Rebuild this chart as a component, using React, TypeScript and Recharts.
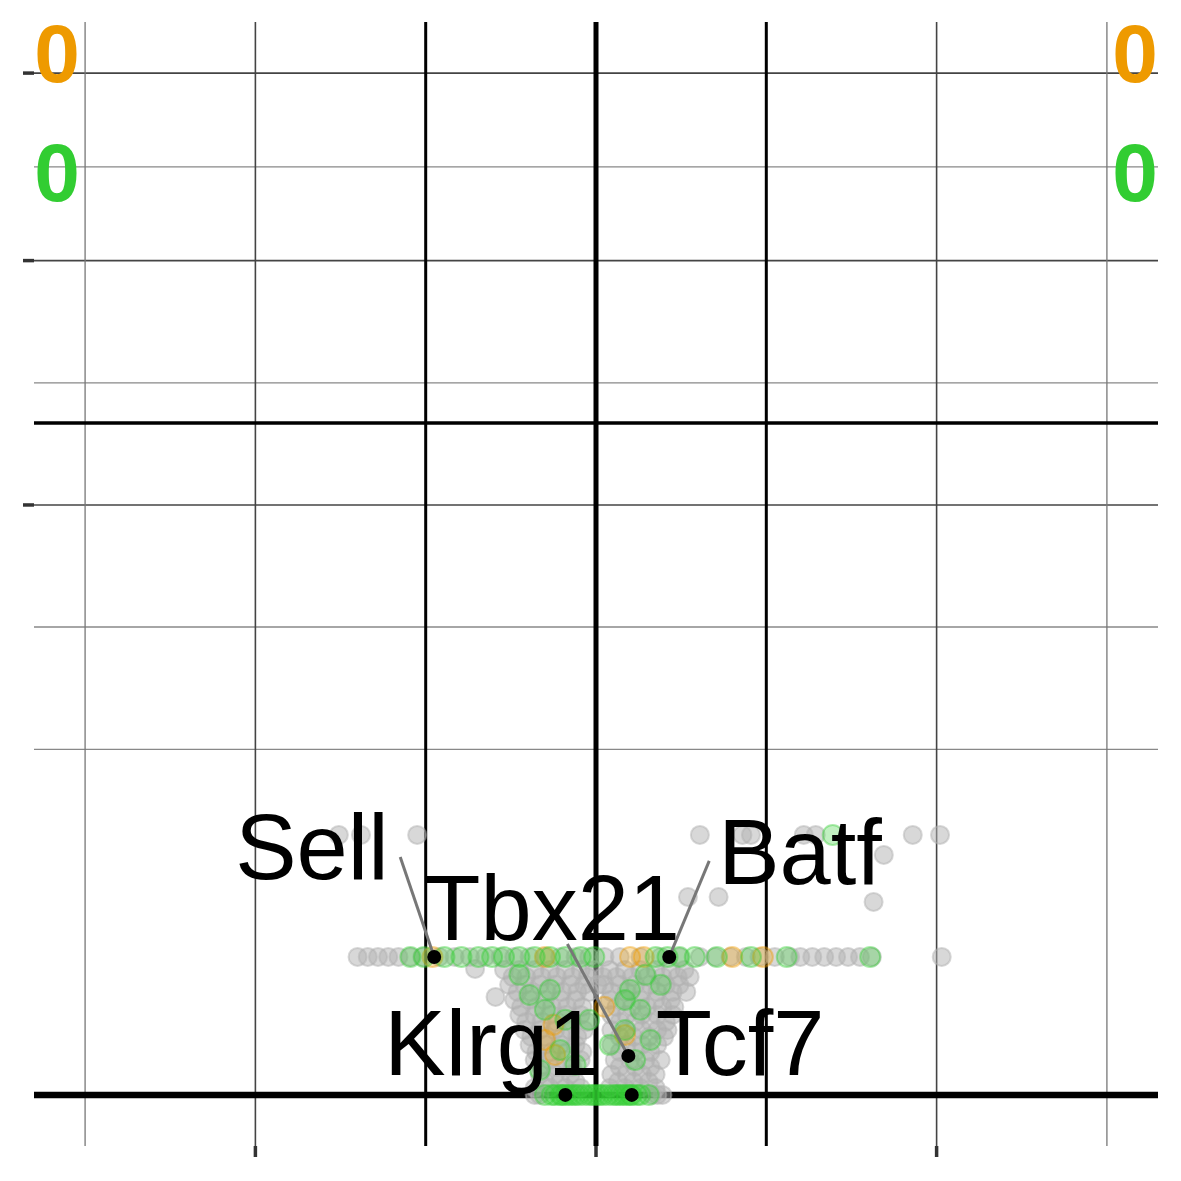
import { ScatterChart, Scatter, XAxis, YAxis, ReferenceLine } from "recharts";

type Pt = [number, number];

// [log2 fold change, -log10 p] (y axis is sqrt-scaled)
const nsPoints: Pt[] = [
  [-1.51, 19.42], [-1.38, 19.42], [-1.05, 19.42], [0.61, 19.42], [0.86, 19.42],
  [0.91, 19.42], [1.22, 19.42], [1.29, 19.42], [1.86, 19.42], [2.02, 19.42],
  [1.69, 16.55], [0.54, 11.26], [0.72, 11.26], [1.63, 10.7],
  [-1.4, 5.47], [-1.34, 5.47], [-1.28, 5.47], [-1.22, 5.47], [-1.16, 5.47],
  [-1.09, 5.47], [-1.02, 5.47], [-0.92, 5.47], [-0.83, 5.47], [-0.74, 5.47],
  [-0.65, 5.47], [-0.56, 5.47], [-0.48, 5.47], [-0.39, 5.47], [-0.3, 5.47],
  [-0.21, 5.47], [-0.12, 5.47], [-0.04, 5.47], [0.05, 5.47], [0.14, 5.47],
  [0.26, 5.47], [0.38, 5.47], [0.49, 5.47], [0.61, 5.47], [0.7, 5.47],
  [0.79, 5.47], [0.88, 5.47], [0.96, 5.47], [1.05, 5.47], [1.14, 5.47],
  [1.2, 5.47], [1.27, 5.47], [1.34, 5.47], [1.41, 5.47], [1.48, 5.47],
  [1.55, 5.47], [1.62, 5.47], [2.03, 5.47],
  [-0.71, 4.56], [-0.59, 2.76],
  [-0.54, 4.49], [-0.45, 4.49], [-0.36, 4.49], [-0.27, 4.49], [-0.18, 4.49],
  [-0.09, 4.49], [-0.01, 4.49], [0.08, 4.49], [0.17, 4.49], [0.26, 4.49],
  [0.35, 4.49], [0.44, 4.49], [0.52, 4.49],
  [-0.49, 4.0], [-0.41, 4.0], [-0.32, 4.0], [-0.23, 4.0], [-0.14, 4.0],
  [-0.05, 4.0], [0.04, 4.0], [0.12, 4.0], [0.21, 4.0], [0.3, 4.0],
  [0.39, 4.0], [0.48, 4.0], [0.55, 4.0],
  [-0.51, 3.48], [-0.42, 3.48], [-0.33, 3.48], [-0.24, 3.48], [-0.15, 3.48],
  [-0.07, 3.48], [0.01, 3.48], [0.05, 3.48], [0.14, 3.48], [0.23, 3.48],
  [0.32, 3.48], [0.41, 3.48], [0.49, 3.48],
  [-0.46, 3.05], [-0.38, 3.05], [-0.29, 3.05], [-0.2, 3.05], [-0.11, 3.05],
  [-0.04, 3.05], [0.09, 3.05], [0.18, 3.05], [0.27, 3.05], [0.36, 3.05],
  [0.45, 3.05], [0.53, 3.05],
  [-0.48, 2.59], [-0.39, 2.59], [-0.3, 2.59], [-0.21, 2.59], [-0.12, 2.59],
  [0.08, 2.59], [0.17, 2.59], [0.26, 2.59], [0.35, 2.59], [0.44, 2.59],
  [-0.44, 2.22], [-0.35, 2.22], [-0.26, 2.22], [-0.17, 2.22], [-0.08, 2.22],
  [0.12, 2.22], [0.21, 2.22], [0.3, 2.22], [0.39, 2.22], [0.46, 2.22],
  [-0.45, 1.84], [-0.36, 1.84], [-0.27, 1.84], [-0.18, 1.84], [-0.09, 1.84],
  [0.09, 1.84], [0.18, 1.84], [0.27, 1.84], [0.36, 1.84], [0.45, 1.84],
  [-0.41, 1.53], [-0.32, 1.53], [-0.23, 1.53], [-0.14, 1.53], [-0.05, 1.53],
  [0.14, 1.53], [0.23, 1.53], [0.32, 1.53], [0.41, 1.53],
  [-0.42, 1.21], [-0.33, 1.21], [-0.24, 1.21], [-0.15, 1.21], [-0.07, 1.21],
  [0.09, 1.21], [0.18, 1.21], [0.27, 1.21], [0.36, 1.21], [0.42, 1.21],
  [-0.38, 0.97], [-0.29, 0.97], [-0.2, 0.97], [-0.11, 0.97],
  [0.14, 0.97], [0.22, 0.97], [0.31, 0.97], [0.4, 0.97],
  [-0.39, 0.72], [-0.3, 0.72], [-0.21, 0.72], [-0.12, 0.72],
  [0.09, 0.72], [0.18, 0.72], [0.27, 0.72], [0.36, 0.72],
  [-0.35, 0.53], [-0.26, 0.53], [-0.17, 0.53], [-0.08, 0.53],
  [0.14, 0.53], [0.23, 0.53], [0.32, 0.53],
  [-0.36, 0.35], [-0.27, 0.35], [-0.18, 0.35], [-0.09, 0.35],
  [0.11, 0.35], [0.2, 0.35], [0.29, 0.35], [0.38, 0.35],
  [-0.32, 0.225], [-0.23, 0.225], [-0.14, 0.225], [0.14, 0.225], [0.23, 0.225],
  [0.32, 0.225],
  [-0.33, 0.12], [-0.24, 0.12], [-0.15, 0.12], [0.09, 0.12], [0.18, 0.12],
  [0.27, 0.12], [0.35, 0.12],
  [-0.3, 0.049], [-0.21, 0.049], [-0.12, 0.049], [0.13, 0.049], [0.22, 0.049],
  [0.31, 0.049],
  [-0.36, 0.014], [-0.27, 0.014], [-0.18, 0.014], [-0.09, 0.014],
  [0.08, 0.014], [0.17, 0.014], [0.26, 0.014], [0.35, 0.014],
  [-0.36, 0], [-0.33, 0], [0.33, 0], [0.36, 0], [0.39, 0],
];

const greenPoints: Pt[] = [
  [-1.09, 5.47], [-1.01, 5.47], [-0.89, 5.47], [-0.79, 5.47], [-0.69, 5.47],
  [-0.61, 5.47], [-0.54, 5.47], [-0.45, 5.47], [-0.36, 5.47], [-0.27, 5.47],
  [-0.18, 5.47], [-0.09, 5.47], [-0.01, 5.47], [0.35, 5.47], [0.42, 5.47],
  [0.49, 5.47], [0.58, 5.47], [0.71, 5.47], [0.91, 5.47], [1.12, 5.47],
  [1.61, 5.47],
  [1.39, 19.42],
  [-0.39, 2.87], [-0.27, 3.17], [-0.3, 2.08], [-0.18, 1.62], [-0.45, 4.14],
  [0.2, 3.17], [0.26, 2.08], [0.17, 1.21], [0.32, 0.87], [0.23, 0.35],
  [0.08, 0.72], [-0.21, 0.58], [-0.12, 0.26], [0.38, 3.48], [-0.04, 1.62],
  [0.17, 2.59], [0.29, 4.14], [-0.33, 0.18],
  [-0.3, 0], [-0.26, 0], [-0.24, 0], [-0.21, 0], [-0.2, 0], [-0.18, 0],
  [-0.16, 0], [-0.14, 0], [-0.12, 0], [-0.1, 0], [-0.07, 0], [-0.04, 0],
  [-0.02, 0], [0, 0], [0.02, 0], [0.04, 0], [0.07, 0], [0.1, 0], [0.12, 0],
  [0.14, 0], [0.16, 0], [0.18, 0], [0.2, 0], [0.21, 0], [0.24, 0], [0.26, 0],
  [0.31, 0],
];

const orangePoints: Pt[] = [
  [-0.96, 5.47], [-0.3, 5.47], [0.2, 5.47], [0.28, 5.47], [0.8, 5.47], [0.98, 5.47],
  [0.05, 2.23], [-0.3, 0.87], [-0.24, 0.46], [0.17, 1.03], [-0.25, 1.41],
];

const labelGenes = ["Sell", "Tbx21", "Batf", "Klrg1", "Tcf7"];
const labelFC = [-0.95, 0.19, 0.43, -0.18, 0.21];
const labelP = [5.47, 0.437, 5.47, 0, 0];

const xTicks = [-2, 0, 2];
const xMinor = [-3, 3];
const fcCutoff = [-1, 1];
const yTicks = [100, 200, 300];
const yMinor = [34.3, 62.9, 145.7, 247.5];
const pCutoff = 129.7;

const upCounts = ["0", "0"];
const downCounts = ["0", "0"];

// label placement, pixels from the point
const labelLayout: Record<string, { dx: number; dy: number; line?: [number, number] }> = {
  Sell: { dx: -199, dy: -78, line: [-34, -100] },
  Tbx21: { dx: -204, dy: -116, line: [-61, -112] },
  Batf: { dx: 49, dy: -73, line: [40, -96] },
  Klrg1: { dx: -181, dy: -20 },
  Tcf7: { dx: 24, dy: -20 },
};

const FONT = "'Liberation Sans', Arial, Helvetica, sans-serif";
const GREY = "#b2b2b2";
const GREEN = "#32cd32";
const ORANGE = "#ee9a00";

const toRows = (pts: Pt[]) => pts.map(([x, y]) => ({ x, y }));
const labelRows = labelGenes.map((gene, i) => ({ gene, x: labelFC[i], y: labelP[i] }));

const dot = (color: string, r: number, fo: number, so: number) => (p: any) => (
  <circle
    cx={p.cx}
    cy={p.cy}
    r={r}
    fill={color}
    fillOpacity={fo}
    stroke={color}
    strokeOpacity={so}
    strokeWidth={2}
  />
);

const LabelShape = (p: any) => {
  const l = labelLayout[p.payload.gene];
  return (
    <g>
      {l.line && (
        <line
          x1={p.cx + l.line[0]}
          y1={p.cy + l.line[1]}
          x2={p.cx}
          y2={p.cy}
          stroke="#777"
          strokeWidth={3}
        />
      )}
      <circle cx={p.cx} cy={p.cy} r={7} fill="#000" />
      <text x={p.cx + l.dx} y={p.cy + l.dy} fontSize={92} fontFamily={FONT} fill="#000">
        {p.payload.gene}
      </text>
    </g>
  );
};

const NoTick = () => <g />;

export default function App() {
  return (
    <div style={{ position: "absolute", left: 0, top: 0, width: 1181, height: 1181, background: "#fff" }}>
      <ScatterChart width={1181} height={1181} margin={{ top: 22, right: 23, bottom: 0, left: 0 }}>
        <XAxis
          type="number"
          dataKey="x"
          domain={[-3.3, 3.3]}
          ticks={xTicks}
          allowDataOverflow
          height={35}
          axisLine={false}
          tick={NoTick}
          tickSize={11}
          tickLine={{ stroke: "#333", strokeWidth: 3.5 }}
        />
        <YAxis
          type="number"
          dataKey="y"
          scale="sqrt"
          domain={[-0.75, 330.75]}
          ticks={yTicks}
          allowDataOverflow
          width={34}
          axisLine={false}
          tick={NoTick}
          tickSize={11}
          tickLine={{ stroke: "#333", strokeWidth: 3.5 }}
        />
        {yMinor.map((v) => (
          <ReferenceLine key={`ym${v}`} y={v} stroke="#888" strokeWidth={1.3} />
        ))}
        {yTicks.map((v) => (
          <ReferenceLine key={`yt${v}`} y={v} stroke="#444" strokeWidth={1.6} />
        ))}
        {xMinor.map((v) => (
          <ReferenceLine key={`xm${v}`} x={v} stroke="#777" strokeWidth={1.3} />
        ))}
        {xTicks.filter((v) => v !== 0).map((v) => (
          <ReferenceLine key={`xt${v}`} x={v} stroke="#444" strokeWidth={1.6} />
        ))}
        {fcCutoff.map((v) => (
          <ReferenceLine key={`fc${v}`} x={v} stroke="#000" strokeWidth={3} />
        ))}
        <ReferenceLine x={0} stroke="#000" strokeWidth={5} />
        <ReferenceLine y={pCutoff} stroke="#000" strokeWidth={3.5} />
        <ReferenceLine y={0} stroke="#000" strokeWidth={6.5} />

        <Scatter data={toRows(nsPoints)} isAnimationActive={false} shape={dot(GREY, 9, 0.5, 0.5)} />
        <Scatter data={toRows(orangePoints)} isAnimationActive={false} shape={dot(ORANGE, 10, 0.3, 0.4)} />
        <Scatter data={toRows(greenPoints)} isAnimationActive={false} shape={dot(GREEN, 10, 0.3, 0.4)} />
        <Scatter data={labelRows} isAnimationActive={false} shape={LabelShape} />
      </ScatterChart>
      <svg
        width={1181}
        height={1181}
        style={{ position: "absolute", left: 0, top: 0, pointerEvents: "none" }}
      >
        <g fontFamily={FONT} fontWeight="bold" fontSize={82} textAnchor="middle">
          <text x={57} y={82} fill={ORANGE}>{downCounts[0]}</text>
          <text x={57} y={201} fill={GREEN}>{downCounts[1]}</text>
          <text x={1135} y={82} fill={ORANGE}>{upCounts[0]}</text>
          <text x={1135} y={201} fill={GREEN}>{upCounts[1]}</text>
        </g>
      </svg>
    </div>
  );
}
